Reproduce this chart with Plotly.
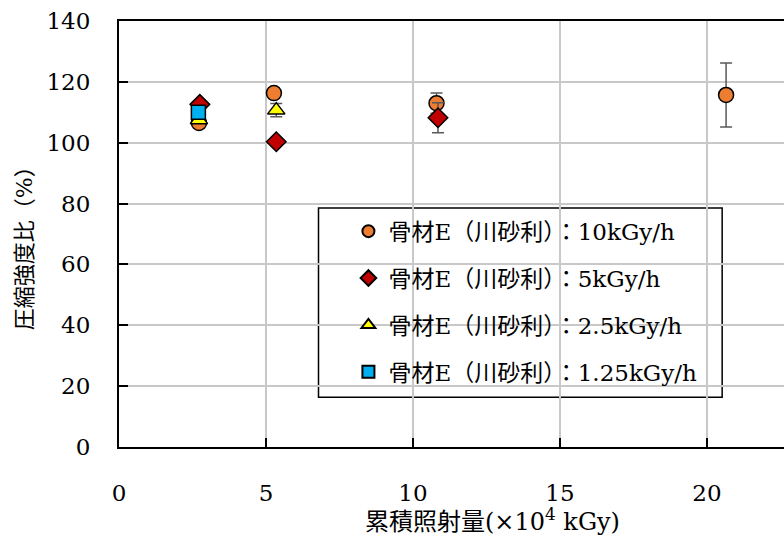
import plotly.graph_objects as go

# Cumulative dose (x10^4 kGy) and compressive strength ratio (%) per dose rate
series_names = [
    "骨材E（川砂利）：10kGy/h",
    "骨材E（川砂利）：5kGy/h",
    "骨材E（川砂利）：2.5kGy/h",
    "骨材E（川砂利）：1.25kGy/h",
]

dose_10 = [2.72, 5.27, 10.8, 20.65]
ratio_10 = [106.5, 116.3, 113.0, 115.7]
err_10 = [0.0, 0.0, 3.3, 10.5]

dose_5 = [2.75, 5.35, 10.85]
ratio_5 = [112.6, 100.3, 108.2]
err_5 = [0.0, 0.0, 4.9]

dose_2_5 = [2.72, 5.35]
ratio_2_5 = [107.5, 110.7]
err_2_5 = [0.0, 2.2]

dose_1_25 = [2.70]
ratio_1_25 = [110.0]
err_1_25 = [0.0]

x_ticks = [0, 5, 10, 15, 20]
y_ticks = [0, 20, 40, 60, 80, 100, 120, 140]

x_title = "累積照射量(×10<sup>4</sup> kGy)"
y_title = "圧縮強度比（%）"

FONT = "DejaVu Serif, Noto Sans CJK JP, serif"

styles = [
    dict(symbol="circle", color="#ED7D31", size=15),
    dict(symbol="diamond", color="#C00000", size=15),
    dict(symbol="triangle-up", color="#FFFF00", size=15),
    dict(symbol="square", color="#00B0F0", size=14),
]
data = [
    (dose_10, ratio_10, err_10),
    (dose_5, ratio_5, err_5),
    (dose_2_5, ratio_2_5, err_2_5),
    (dose_1_25, ratio_1_25, err_1_25),
]

fig = go.Figure()
for i, (name, st, (xs, ys, es)) in enumerate(zip(series_names, styles, data)):
    fig.add_trace(go.Scatter(
        x=xs, y=ys, name=name, mode="markers", legendgroup=f"g{i}",
        error_y=dict(type="data", array=es, visible=True,
                     color="#595959", thickness=1.5, width=6),
        marker=dict(symbol=st["symbol"], color=st["color"], size=st["size"],
                    line=dict(color="#000000", width=1.5)),
    ))

# legend frame
fig.add_shape(type="rect", xref="paper", yref="paper",
              x0=0.300, x1=0.907, y0=0.117, y1=0.561,
              line=dict(color="#000000", width=1.5), fillcolor="white",
              layer="below")

fig.add_annotation(text=x_title, xref="paper", yref="paper",
                   x=0.561, y=-0.171, xanchor="center", yanchor="middle",
                   showarrow=False, font=dict(family=FONT, size=24))
fig.add_annotation(text=y_title, xref="paper", yref="paper",
                   x=-0.141, y=0.479, xanchor="center", yanchor="middle",
                   textangle=-90, showarrow=False,
                   font=dict(family=FONT, size=22))

fig.update_layout(
    width=784, height=541,
    margin=dict(l=119, r=0, t=21, b=94),
    paper_bgcolor="white", plot_bgcolor="white",
    font=dict(family=FONT, color="#000000", size=20),
    showlegend=True,
    legend=dict(
        x=0.345, y=0.557, xanchor="left", yanchor="top",
        bgcolor="rgba(0,0,0,0)", borderwidth=0,
        font=dict(family=FONT, size=23, color="#000000"),
        tracegroupgap=14, itemsizing="constant",
    ),
    xaxis=dict(
        range=[0, 22.62], tickvals=x_ticks, ticktext=[str(v) for v in x_ticks],
        showgrid=True, gridcolor="#C8C8C8", gridwidth=2,
        showline=True, linecolor="#000000", linewidth=2, mirror=True,
        ticks="inside", ticklen=9, tickwidth=2, tickcolor="#000000",
        ticklabelstandoff=24,
        tickfont=dict(family=FONT, size=23), zeroline=False,
    ),
    yaxis=dict(
        range=[0, 140], tickvals=y_ticks, ticktext=[str(v) for v in y_ticks],
        showgrid=True, gridcolor="#C8C8C8", gridwidth=2,
        showline=True, linecolor="#000000", linewidth=2,
        ticks="inside", ticklen=9, tickwidth=2, tickcolor="#000000",
        ticklabelstandoff=22,
        tickfont=dict(family=FONT, size=23), zeroline=False,
    ),
)

fig.write_html("out.html")
